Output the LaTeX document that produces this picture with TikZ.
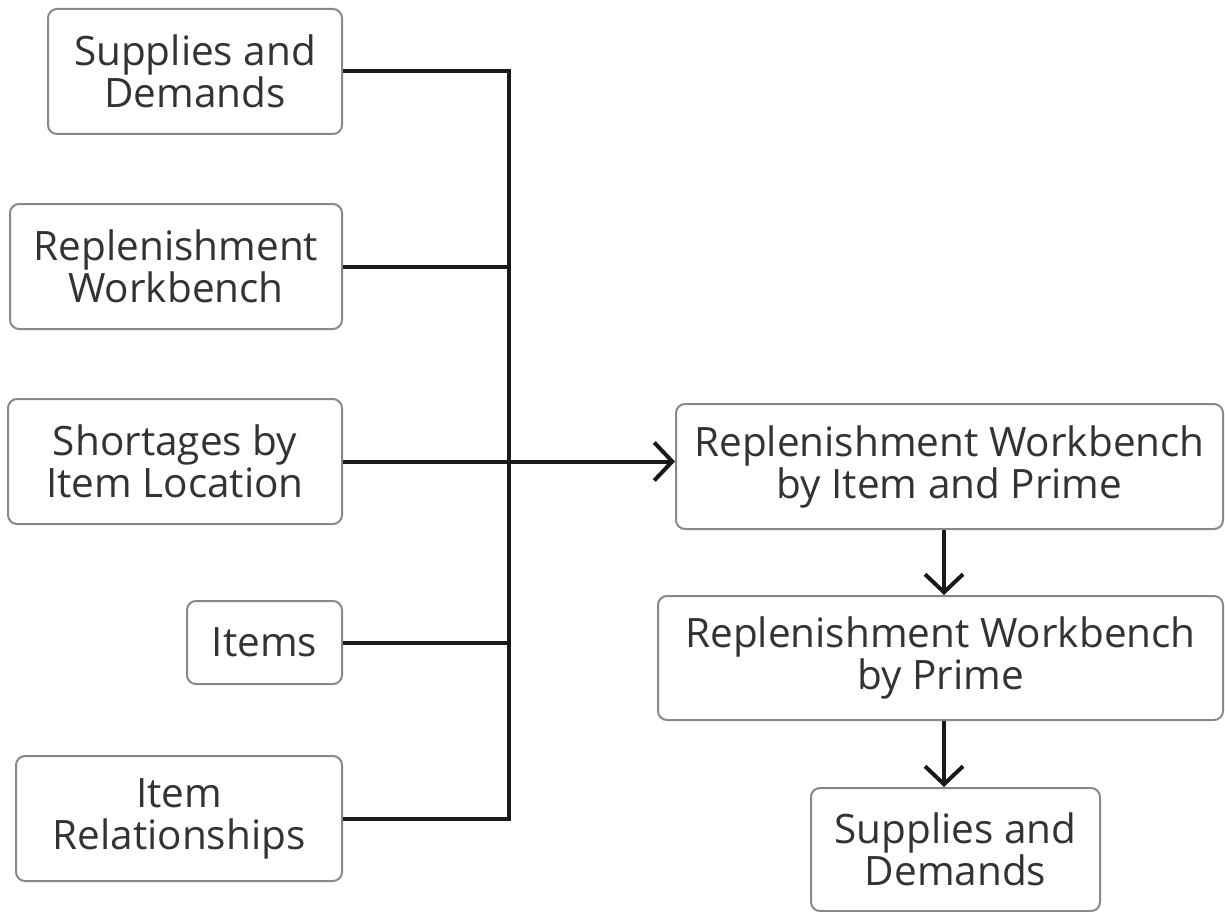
\documentclass[tikz,border=0pt]{standalone}
\usepackage{fontspec}
\setmainfont{Open Sans}
\usetikzlibrary{arrows.meta}
\definecolor{boxline}{HTML}{8C8883}
\definecolor{txt}{HTML}{333333}
\definecolor{connc}{HTML}{1A1A1A}
\tikzset{
 box/.style={draw=boxline, line width=2pt, rounded corners=9pt, align=center, inner sep=0pt, text=txt, font=\fontsize{40.5}{42}\selectfont},
 conn/.style={draw=connc, line width=4pt},
 arr/.style={conn, -{Straight Barb[length=18pt,width=38pt,line width=4pt]}}
}
\begin{document}
\begin{tikzpicture}[x=1pt,y=-1pt]
\useasboundingbox (0,0) rectangle (1225,912);
\node[box, minimum width=294pt, minimum height=125pt] (sd) at (195,71.5) {Supplies and\\Demands};
\node[box, minimum width=332pt, minimum height=125pt] (rw) at (176,266.5) {Replenishment\\Workbench};
\node[box, minimum width=334pt, minimum height=125pt] (ssl) at (175,461.5) {Shortages by\\Item Location};
\node[box, minimum width=155pt, minimum height=83pt] (items) at (264.5,642.5) {Items};
\node[box, minimum width=326pt, minimum height=125pt] (irel) at (179,818.5) {Item\\Relationships};
\node[box, minimum width=547pt, minimum height=125pt] (A) at (949.5,466.5) {Replenishment Workbench\\by Item and Prime};
\node[box, minimum width=565pt, minimum height=124pt] (B) at (940.5,658) {Replenishment Workbench\\by Prime};
\node[box, minimum width=289pt, minimum height=123pt] (C) at (955.5,849.5) {Supplies and\\Demands};
\coordinate (bus) at (509,0);
\coordinate (ax) at (944,0);
\draw[conn] (sd.east) -- (sd.east -| bus) -- (irel.east -| bus) -- (irel.east);
\draw[conn] (rw.east) -- (rw.east -| bus);
\draw[conn] (items.east) -- (items.east -| bus);
\draw[arr] (ssl.east) -- (ssl.east -| A.west);
\draw[arr] (A.south -| ax) -- (B.north -| ax);
\draw[arr] (B.south -| ax) -- (C.north -| ax);
\end{tikzpicture}
\end{document}
